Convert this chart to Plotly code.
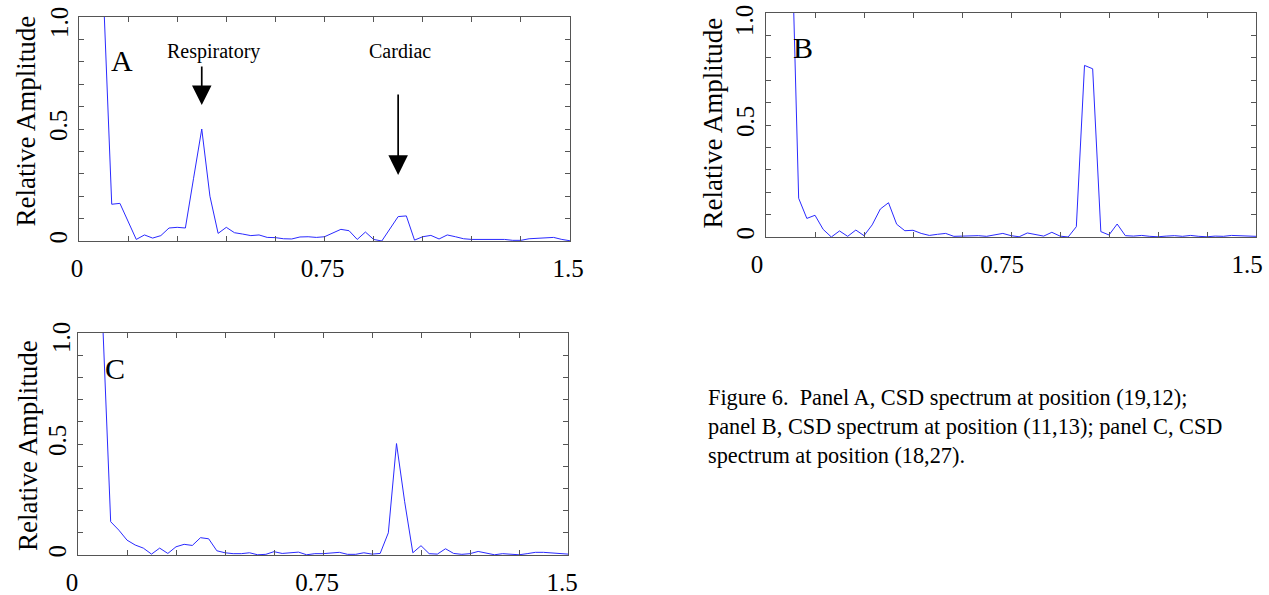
import plotly.graph_objects as go

# frequency grid (shared by all panels)
freq = [0.075, 0.1, 0.125, 0.15, 0.175, 0.2, 0.225, 0.25, 0.275, 0.3,
        0.325, 0.35, 0.375, 0.4, 0.425, 0.45, 0.475, 0.5, 0.525, 0.55,
        0.575, 0.6, 0.625, 0.65, 0.675, 0.7, 0.725, 0.75, 0.775, 0.8,
        0.825, 0.85, 0.875, 0.9, 0.925, 0.95, 0.975, 1.0, 1.025, 1.05,
        1.075, 1.1, 1.125, 1.15, 1.175, 1.2, 1.225, 1.25, 1.275, 1.3,
        1.325, 1.35, 1.375, 1.4, 1.425, 1.45, 1.475, 1.5]

panel_a = [1.09, 0.164, 0.168, 0.09, 0.007, 0.027, 0.013, 0.024, 0.058, 0.061,
           0.058, 0.28, 0.5, 0.2, 0.034, 0.061, 0.037, 0.031, 0.024, 0.027,
           0.016, 0.015, 0.01, 0.009, 0.018, 0.019, 0.016, 0.019, 0.034, 0.052,
           0.046, 0.007, 0.04, 0.007, 0.0, 0.053, 0.109, 0.112, 0.004, 0.019,
           0.025, 0.009, 0.027, 0.019, 0.01, 0.007, 0.007, 0.006, 0.004, 0.007,
           0.003, 0.003, 0.01, 0.013, 0.013, 0.016, 0.007, 0.001]

panel_b = [1.55, 0.173, 0.083, 0.097, 0.034, 0.0, 0.027, 0.003, 0.031, 0.006,
           0.054, 0.125, 0.153, 0.057, 0.028, 0.03, 0.016, 0.007, 0.012, 0.016,
           0.003, 0.004, 0.006, 0.006, 0.003, 0.009, 0.016, 0.006, 0.001, 0.018,
           0.01, 0.004, 0.021, 0.004, 0.0, 0.046, 0.766, 0.751, 0.024, 0.009,
           0.058, 0.006, 0.004, 0.007, 0.003, 0.001, 0.004, 0.006, 0.003, 0.007,
           0.003, 0.001, 0.004, 0.003, 0.007, 0.006, 0.003, 0.003]

panel_c = [1.07, 0.15, 0.112, 0.067, 0.045, 0.031, 0.004, 0.031, 0.007, 0.037,
           0.048, 0.043, 0.078, 0.073, 0.019, 0.01, 0.006, 0.006, 0.01, 0.001,
           0.003, 0.015, 0.007, 0.009, 0.013, 0.001, 0.006, 0.006, 0.009, 0.012,
           0.003, 0.003, 0.01, 0.004, 0.007, 0.1, 0.502, 0.24, 0.01, 0.042,
           0.006, 0.004, 0.028, 0.007, 0.003, 0.006, 0.016, 0.007, 0.001, 0.006,
           0.003, 0.001, 0.006, 0.012, 0.012, 0.01, 0.006, 0.004]

x_tickvals = [0, 0.15, 0.3, 0.45, 0.6, 0.75, 0.9, 1.05, 1.2, 1.35, 1.5]
x_ticktext = ["0", "", "", "", "", "0.75", "", "", "", "", "1.5"]
y_tickvals = [0, 0.1, 0.2, 0.3, 0.4, 0.5, 0.6, 0.7, 0.8, 0.9, 1.0]
y_ticktext = ["0", "", "", "", "", "0.5", "", "", "", "", ""]
y_top_label = "1.0"   # top y label, nudged down inside the page as in the original

SERIF = "Liberation Serif"
AX = "#555555"
W, H = 1269, 595

fig = go.Figure()
for i, ys in enumerate([panel_a, panel_b, panel_c]):
    sfx = "" if i == 0 else str(i + 1)
    fig.add_trace(go.Scatter(x=freq, y=ys, mode="lines",
                             line=dict(color="#2a2aff", width=1),
                             xaxis="x" + sfx, yaxis="y" + sfx,
                             showlegend=False, hoverinfo="skip"))


def xax(domain, anchor, shift):
    return dict(domain=domain, anchor=anchor, range=[0, 1.5], automargin=False,
                tickmode="array", tickvals=x_tickvals, ticktext=x_ticktext,
                ticks="inside", ticklen=5, tickwidth=1, tickcolor=AX,
                showline=True, linecolor=AX, linewidth=1, mirror="ticks",
                showgrid=False, zeroline=False, ticklabelstandoff=5,
                ticklabelshift=shift, ticklabeloverflow="allow",
                tickfont=dict(family=SERIF, size=25, color="black"))


def yax(domain, anchor):
    return dict(domain=domain, anchor=anchor, range=[0, 1.0], automargin=False,
                tickmode="array", tickvals=y_tickvals, ticktext=y_ticktext,
                ticks="inside", ticklen=5, tickwidth=1, tickcolor=AX,
                showline=True, linecolor=AX, linewidth=1, mirror="ticks",
                showgrid=False, zeroline=False, tickangle=-90,
                ticklabelstandoff=1, ticklabeloverflow="allow",
                tickfont=dict(family=SERIF, size=25, color="black"))


# plot-area boxes in pixels (left, right, top, bottom) and x-label shifts
boxes = [(79, 570, 17, 241), (766, 1256, 13, 237), (78, 568, 333, 555)]
xshifts = [-2, -9, -6]
layout_axes = {}
for i, (l, r, t, b) in enumerate(boxes):
    sfx = "" if i == 0 else str(i + 1)
    xd = [l / W, r / W]
    yd = [1 - b / H, 1 - t / H]
    layout_axes["xaxis" + sfx] = xax(xd, "y" + sfx, xshifts[i])
    layout_axes["yaxis" + sfx] = yax(yd, "x" + sfx)

annotations = []
# top "1.0" labels of the y axes
for (px, yr, ysh) in [(59, "y", -6), (744, "y2", -8), (61, "y3", -5)]:
    annotations.append(dict(xref="paper", yref=yr, x=px / W, y=1.0, yshift=ysh,
                            text=y_top_label, textangle=-90, showarrow=False,
                            xanchor="center", yanchor="middle",
                            font=dict(family=SERIF, size=25, color="black")))
# y-axis titles
for (px, py) in [(26, 121.5), (712, 123.5), (28, 446)]:
    annotations.append(dict(xref="paper", yref="paper", x=px / W, y=1 - py / H,
                            text="Relative Amplitude", textangle=-90,
                            showarrow=False, xanchor="center", yanchor="middle",
                            font=dict(family=SERIF, size=27, color="black")))
# panel letters
for (lab, xr, yr, xv, yv) in [("A", "x", "y", 0.131, 0.808),
                               ("B", "x2", "y2", 0.112, 0.845),
                               ("C", "x3", "y3", 0.112, 0.841)]:
    annotations.append(dict(xref=xr, yref=yr, x=xv, y=yv, text=lab,
                            showarrow=False, xanchor="center", yanchor="middle",
                            font=dict(family=SERIF, size=30, color="black")))
# peak labels
annotations.append(dict(xref="x", yref="y", x=0.412, y=0.848, text="Respiratory",
                        showarrow=False, xanchor="center", yanchor="middle",
                        font=dict(family=SERIF, size=20, color="black")))
annotations.append(dict(xref="x", yref="y", x=0.981, y=0.848, text="Cardiac",
                        showarrow=False, xanchor="center", yanchor="middle",
                        font=dict(family=SERIF, size=20, color="black")))
# arrows
annotations.append(dict(xref="x", yref="y", x=0.375, y=0.607, ax=0, ay=-40,
                        text="", showarrow=True, arrowhead=2, arrowsize=2.3,
                        arrowwidth=1.7, arrowcolor="black"))
annotations.append(dict(xref="x", yref="y", x=0.975, y=0.295, ax=0, ay=-82,
                        text="", showarrow=True, arrowhead=2, arrowsize=2.3,
                        arrowwidth=1.7, arrowcolor="black"))
# caption
annotations.append(dict(xref="paper", yref="paper", x=706 / W, y=1 - 383 / H,
                        xanchor="left", yanchor="top", align="left",
                        showarrow=False,
                        text="Figure 6.&nbsp; Panel A, CSD spectrum at position (19,12);<br>"
                             "panel B, CSD spectrum at position (11,13); panel C, CSD<br>"
                             "spectrum at position (18,27).",
                        font=dict(family=SERIF, size=22.3, color="black")))

fig.update_layout(width=W, height=H, margin=dict(l=0, r=0, t=0, b=0),
                  paper_bgcolor="white", plot_bgcolor="white",
                  annotations=annotations, **layout_axes)

# remove the browser's default 8px body margin so the figure sits at (0, 0)
fig.write_html("out.html", config={"displayModeBar": False},
               post_script="document.body.style.margin='0px';")
